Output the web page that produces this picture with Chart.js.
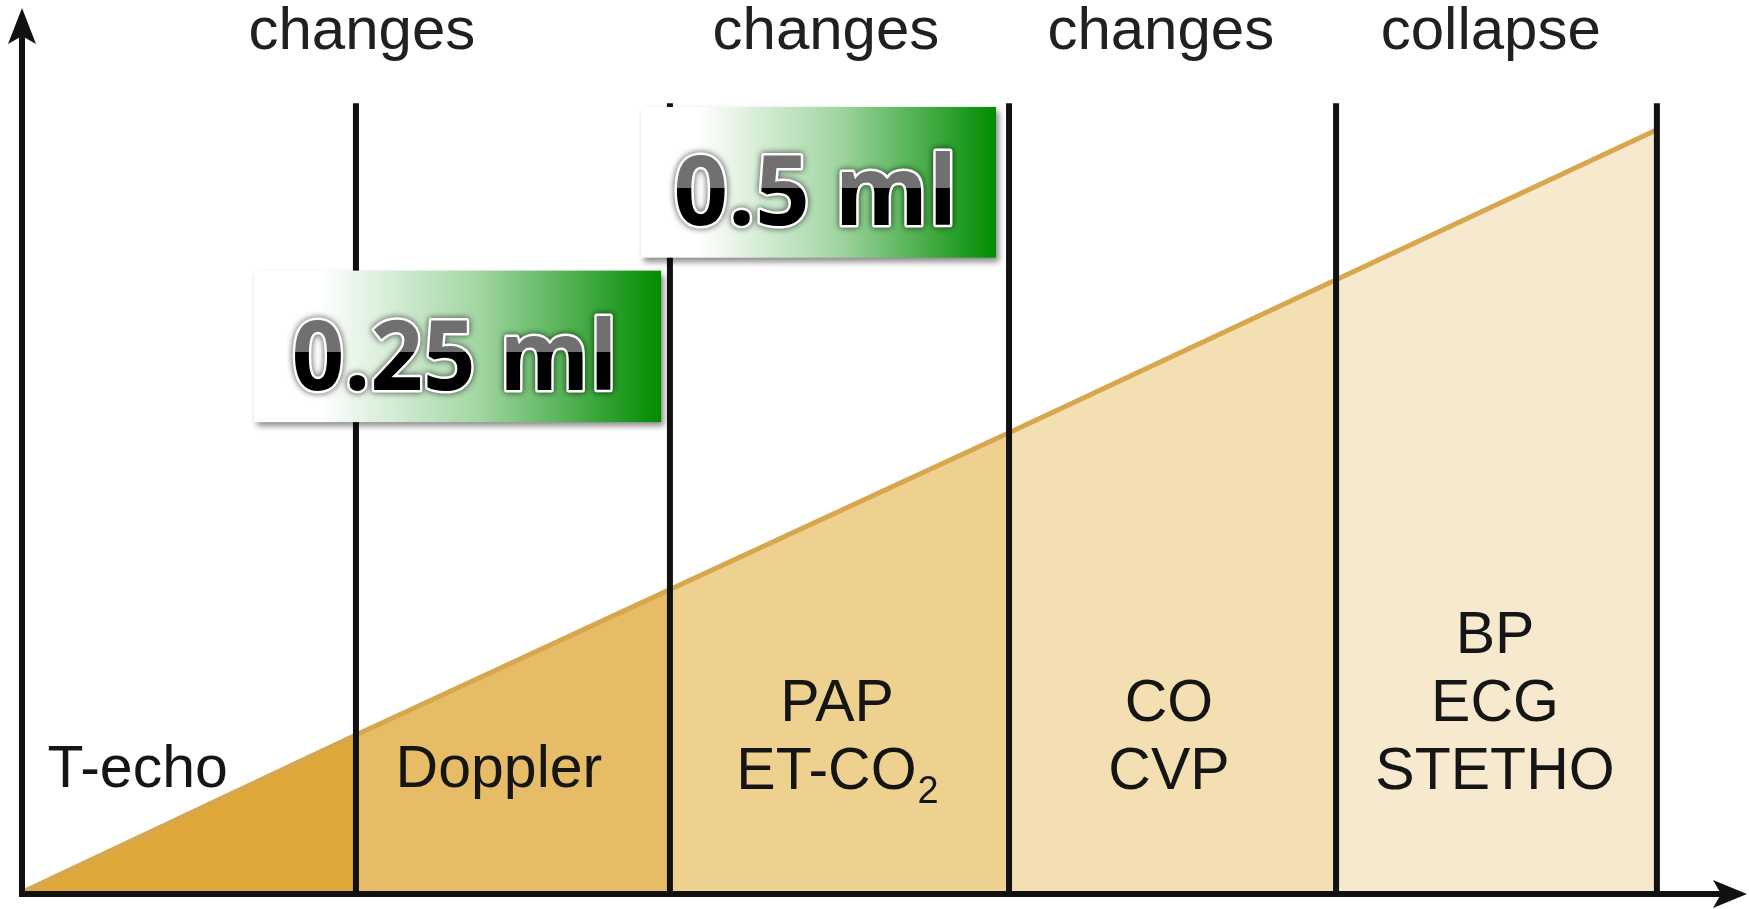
<!DOCTYPE html>
<html>
<head>
<meta charset="utf-8">
<title>Monitoring sensitivity</title>
<script src="https://cdn.jsdelivr.net/npm/chart.js@4.4.1/dist/chart.umd.min.js"></script>
<style>
  html, body { margin: 0; padding: 0; background: #ffffff; }
  #wrap { width: 1749px; height: 909px; }
</style>
</head>
<body>
<div id="wrap"><canvas id="chart" width="1749" height="909"></canvas></div>
<script>
// Stage boundaries along the horizontal axis (five monitoring stages)
const stageBounds = [0, 1.014, 1.976, 3.015, 4.017, 5];
// Height of the rising line at each boundary
const lineLevels = [0, 20.5, 39.6, 60.2, 80.3, 100];
// Fill colour of each stage under the line
const stageColors = ['#e0a83a', '#e6bc66', '#efd18f', '#f3dfb1', '#f6e9ce'];
// Monitoring methods listed in each stage
const stageLabels = [['T-echo'], ['Doppler'], ['PAP', 'ET-CO_2'], ['CO', 'CVP'], ['BP', 'ECG', 'STETHO']];
const stageLabelX = [0.345, 1.452, 2.488, 3.505, 4.504];
const stageLabelBase = 13.6;
// Headings along the top
const topLabels = ['changes', 'changes', 'changes', 'collapse'];
const topLabelX = [1.032, 2.454, 3.480, 4.491];
const topLabelY = 110.6;
// Height reached by the stage dividers
const dividerTop = 103.5;
// Air volume tags
const volumeTags = ['0.25 ml', '0.5 ml'];
const tagX = [[0.702, 1.949], [1.887, 2.975]];
const tagY = [[61.6, 81.5], [83.2, 103.0]];

const xMax = 5.273;
const yMax = 116.0;

// One filled dataset per stage, plus the rising line on top
const datasets = [{
  label: 'level',
  data: stageBounds.map((b, i) => ({ x: b, y: lineLevels[i] })),
  borderColor: '#d7a64d',
  borderWidth: 5,
  pointRadius: 0,
  fill: false,
  tension: 0
}];
for (let i = 0; i < stageColors.length; i++) {
  datasets.push({
    label: 'stage ' + (i + 1),
    data: [{ x: stageBounds[i], y: lineLevels[i] }, { x: stageBounds[i + 1], y: lineLevels[i + 1] }],
    backgroundColor: stageColors[i],
    borderWidth: 0,
    borderColor: 'rgba(0,0,0,0)',
    pointRadius: 0,
    fill: 'origin',
    tension: 0
  });
}

function arrowHead(ctx, tipX, tipY, dirX, dirY, len, half, notch) {
  const px = -dirY, py = dirX;
  const bx = tipX - dirX * len, by = tipY - dirY * len;
  ctx.beginPath();
  ctx.moveTo(tipX, tipY);
  ctx.lineTo(bx + px * half, by + py * half);
  ctx.lineTo(tipX - dirX * (len - notch), tipY - dirY * (len - notch));
  ctx.lineTo(bx - px * half, by - py * half);
  ctx.closePath();
  ctx.fill();
}

const framePlugin = {
  id: 'frame',
  afterDatasetsDraw(chart) {
    const ctx = chart.ctx;
    const xs = chart.scales.x, ys = chart.scales.y;
    const y0 = ys.getPixelForValue(0);
    const x0 = xs.getPixelForValue(0);
    ctx.save();
    // stage dividers
    ctx.strokeStyle = '#111111';
    ctx.lineWidth = 6;
    for (let i = 1; i < stageBounds.length; i++) {
      const x = xs.getPixelForValue(stageBounds[i]);
      ctx.beginPath();
      ctx.moveTo(x, ys.getPixelForValue(dividerTop));
      ctx.lineTo(x, y0);
      ctx.stroke();
    }
    // axes with arrow heads
    ctx.fillStyle = '#111111';
    ctx.lineWidth = 6;
    const ax = x0 - 3;
    ctx.beginPath();
    ctx.moveTo(ax, y0 + 6);
    ctx.lineTo(ax, chart.chartArea.top + 20);
    ctx.stroke();
    arrowHead(ctx, ax, chart.chartArea.top, 0, -1, 36, 14, 8);
    const ay = y0 + 3;
    ctx.beginPath();
    ctx.moveTo(ax - 3, ay);
    ctx.lineTo(chart.chartArea.right - 20, ay);
    ctx.stroke();
    arrowHead(ctx, chart.chartArea.right + 1, ay, 1, 0, 34, 14, 8);
    ctx.restore();
  },
  afterDraw(chart) {
    const ctx = chart.ctx;
    const xs = chart.scales.x, ys = chart.scales.y;
    ctx.save();
    ctx.textBaseline = 'alphabetic';
    ctx.textAlign = 'center';

    // top headings
    ctx.fillStyle = '#202020';
    ctx.font = '60px "Liberation Sans", Arial, sans-serif';
    topLabels.forEach((t, i) => {
      ctx.fillText(t, xs.getPixelForValue(topLabelX[i]), ys.getPixelForValue(topLabelY));
    });

    // stage method labels, stacked upward from the bottom line
    ctx.fillStyle = '#151515';
    const lineGap = 68;
    stageLabels.forEach((lines, i) => {
      const cx = xs.getPixelForValue(stageLabelX[i]);
      const base = ys.getPixelForValue(stageLabelBase);
      lines.forEach((txt, j) => {
        const y = base - (lines.length - 1 - j) * lineGap + (lines.length > 1 ? 2 : 0);
        const parts = txt.split('_');
        ctx.font = '59px "Liberation Sans", Arial, sans-serif';
        if (parts.length === 1) {
          ctx.textAlign = 'center';
          ctx.fillText(txt, cx, y);
        } else {
          const wMain = ctx.measureText(parts[0]).width;
          ctx.font = '38px "Liberation Sans", Arial, sans-serif';
          const wSub = ctx.measureText(parts[1]).width;
          const left = cx - (wMain + wSub) / 2;
          ctx.textAlign = 'left';
          ctx.font = '59px "Liberation Sans", Arial, sans-serif';
          ctx.fillText(parts[0], left, y);
          ctx.font = '38px "Liberation Sans", Arial, sans-serif';
          ctx.fillText(parts[1], left + wMain + 1, y + 14);
          ctx.textAlign = 'center';
        }
      });
    });

    // volume tags: white-to-green boxes with outlined text
    volumeTags.forEach((txt, i) => {
      const l = xs.getPixelForValue(tagX[i][0]);
      const r = xs.getPixelForValue(tagX[i][1]);
      const t = ys.getPixelForValue(tagY[i][1]);
      const b = ys.getPixelForValue(tagY[i][0]);
      const w = r - l, h = b - t;
      const g = ctx.createLinearGradient(l, 0, r, 0);
      g.addColorStop(0, '#ffffff');
      g.addColorStop(0.16, '#ffffff');
      g.addColorStop(0.55, '#a3d6a3');
      g.addColorStop(1, '#008c00');
      ctx.save();
      ctx.shadowColor = 'rgba(0,0,0,0.45)';
      ctx.shadowOffsetX = 3;
      ctx.shadowOffsetY = 4;
      ctx.shadowBlur = 6;
      ctx.fillStyle = g;
      ctx.fillRect(l, t, w, h);
      ctx.restore();

      const fontSize = 96;
      ctx.font = 'bold ' + fontSize + 'px "Open Sans", "Noto Sans", sans-serif';
      ctx.textAlign = 'center';
      const cx = l + w * 0.5 - 3;
      const base = t + h * 0.785;
      const capTop = base - fontSize * 0.72;
      const maxW = w * 0.8;
      ctx.save();
      ctx.lineJoin = 'round';
      ctx.shadowColor = 'rgba(0,0,0,0.75)';
      ctx.shadowBlur = 6;
      ctx.strokeStyle = '#ffffff';
      ctx.lineWidth = 5;
      ctx.strokeText(txt, cx, base, maxW);
      ctx.restore();
      const tg = ctx.createLinearGradient(0, capTop, 0, base);
      tg.addColorStop(0, '#707070');
      tg.addColorStop(0.46, '#707070');
      tg.addColorStop(0.46, '#000000');
      tg.addColorStop(1, '#000000');
      ctx.fillStyle = tg;
      ctx.fillText(txt, cx, base, maxW);
    });
    ctx.restore();
  }
};

new Chart(document.getElementById('chart'), {
  type: 'line',
  data: { datasets },
  options: {
    responsive: false,
    animation: false,
    layout: { padding: { left: 25, right: 3, top: 8, bottom: 18 } },
    plugins: { legend: { display: false }, tooltip: { enabled: false } },
    scales: {
      x: { type: 'linear', min: 0, max: xMax, display: false },
      y: { type: 'linear', min: 0, max: yMax, display: false }
    }
  },
  plugins: [framePlugin]
});
</script>
</body>
</html>
